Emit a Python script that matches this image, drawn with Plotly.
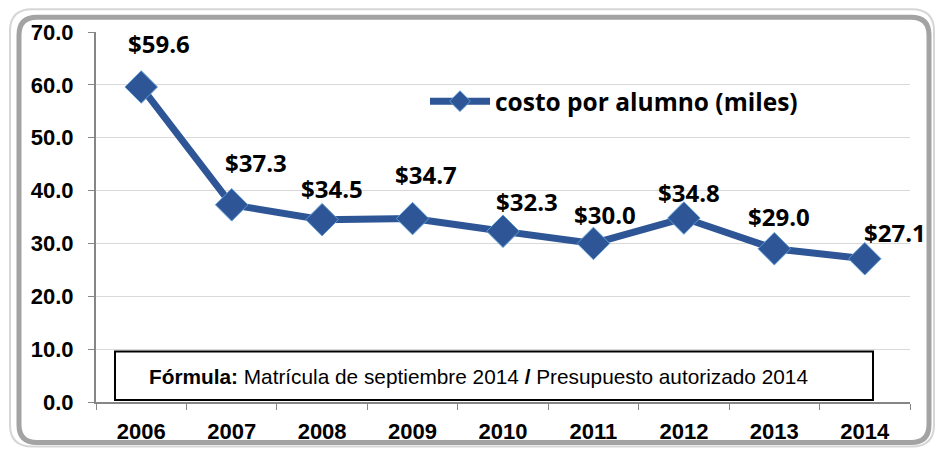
import plotly.graph_objects as go

# Cost per student, thousands of pesos
years = ["2006", "2007", "2008", "2009", "2010", "2011", "2012", "2013", "2014"]
costo = [59.6, 37.3, 34.5, 34.7, 32.3, 30.0, 34.8, 29.0, 27.1]
etiquetas = ["$59.6", "$37.3", "$34.5", "$34.7", "$32.3", "$30.0", "$34.8", "$29.0", "$27.1"]

# Per-label nudges (pixels) for the value labels
label_dx = [18, 24, 10, 13, 24, 12, 5, 5, 30]
label_dy = [43, 42, 31, 44, 30, 29, 26, 32, 26]

W, H = 940, 456
L, R, T, B = 96, 30, 32, 50
PW, PH = W - L - R, H - T - B

BLUE = "#2E5596"


def px(x):
    return (x - L) / PW


def py(y):
    return (H - B - y) / PH


def rounded_rect(x0, y0, x1, y1, r):
    return (
        f"M {px(x0 + r)} {py(y0)} L {px(x1 - r)} {py(y0)} "
        f"Q {px(x1)} {py(y0)} {px(x1)} {py(y0 + r)} "
        f"L {px(x1)} {py(y1 - r)} "
        f"Q {px(x1)} {py(y1)} {px(x1 - r)} {py(y1)} "
        f"L {px(x0 + r)} {py(y1)} "
        f"Q {px(x0)} {py(y1)} {px(x0)} {py(y1 - r)} "
        f"L {px(x0)} {py(y0 + r)} "
        f"Q {px(x0)} {py(y0)} {px(x0 + r)} {py(y0)} Z"
    )


fig = go.Figure()
fig.add_trace(go.Scatter(
    x=years, y=costo, mode="lines+markers",
    name="costo por alumno (miles)",
    line=dict(color=BLUE, width=7),
    marker=dict(symbol="diamond", size=25, color=BLUE,
                line=dict(color="#5B9BD5", width=1)),
    cliponaxis=False,
))

# value labels; x is the category index, "$" written as an entity
for i, (v, t, dx, dy) in enumerate(zip(costo, etiquetas, label_dx, label_dy)):
    fig.add_annotation(x=i, y=v, xref="x", yref="y",
                       text=t.replace("$", "&#36;"), showarrow=False,
                       xshift=dx, yshift=dy,
                       font=dict(family="Open Sans", size=24, color="#000000", weight="bold"))

shapes = [
    dict(type="path", xref="paper", yref="paper",
         path=rounded_rect(10, 9, 934, 451, 22),
         line=dict(color="#D6D6D6", width=2), layer="below"),
    dict(type="path", xref="paper", yref="paper",
         path=rounded_rect(19, 17, 929, 447, 18),
         line=dict(color="#A3A3A3", width=5), layer="below"),
    dict(type="rect", xref="paper", yref="paper",
         x0=px(115), x1=px(873), y0=py(404), y1=py(355),
         line=dict(color="#000000", width=2), fillcolor="white"),
]

fig.add_annotation(
    xref="paper", yref="paper", x=px(147), y=py(380),
    xanchor="left", yanchor="middle", showarrow=False,
    text="<b>Fórmula:</b> Matrícula de septiembre 2014 <b>/</b> Presupuesto autorizado 2014",
    font=dict(family="Liberation Sans", size=20.8, color="#000000"),
)

fig.update_layout(
    width=W, height=H,
    margin=dict(l=L, r=R, t=T, b=B),
    paper_bgcolor="white", plot_bgcolor="white",
    shapes=shapes,
    showlegend=True,
    legend=dict(x=px(425), y=py(102), xanchor="left", yanchor="middle",
                bgcolor="rgba(0,0,0,0)",
                font=dict(family="Open Sans", size=24.5, color="#000000", weight="bold"),
                itemwidth=60),
    xaxis=dict(
        type="category", range=[-0.5, 8.5],
        showgrid=False, showline=True, linecolor="#868686", linewidth=2,
        ticks="outside", ticklen=6, tickcolor="#868686", tickson="boundaries",
        tickfont=dict(family="Liberation Sans", size=22, color="#000000", weight="bold"),
        ticklabelstandoff=9,
    ),
    yaxis=dict(
        range=[0, 70], dtick=10, tickformat=".1f",
        showgrid=True, gridcolor="#D9D9D9", gridwidth=1,
        showline=True, linecolor="#868686", linewidth=2,
        ticks="outside", ticklen=6, tickcolor="#868686",
        tickfont=dict(family="Liberation Sans", size=22, color="#000000", weight="bold"),
        ticklabelstandoff=10, zeroline=False,
    ),
)

fig.write_html("out.html")
